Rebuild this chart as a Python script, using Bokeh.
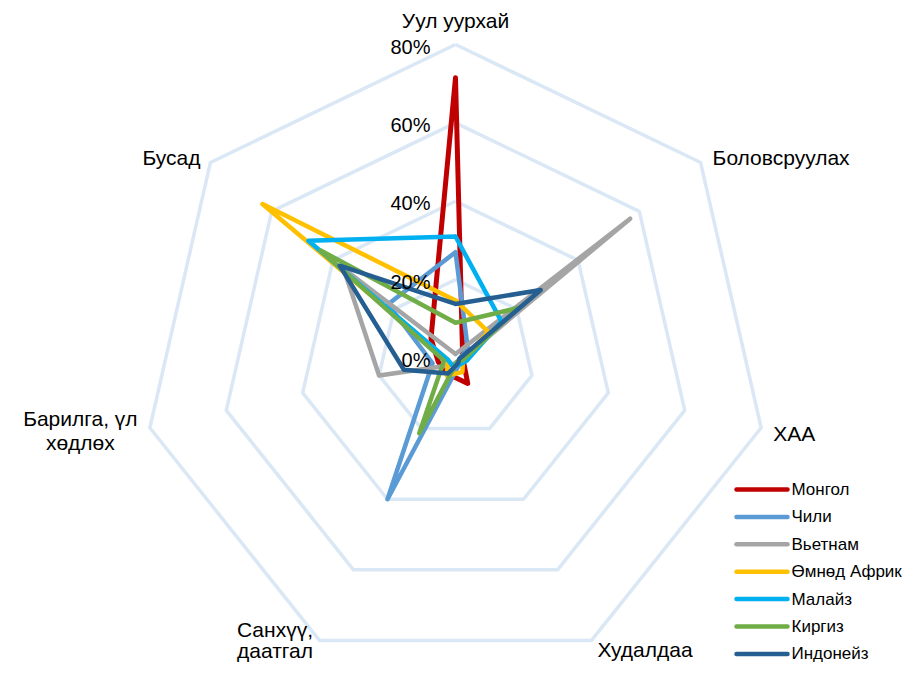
import math
from bokeh.plotting import figure
from bokeh.models import Range1d
from bokeh.core.properties import value
from bokeh.embed import file_html
from bokeh.resources import INLINE

# ---------------- data (percent) ----------------
categories = ["Уул уурхай", "Боловсруулах", "ХАА", "Худалдаа",
              "Санхүү, даатгал", "Барилга, үл хөдлөх", "Бусад"]
series_names = ["Монгол", "Чили", "Вьетнам", "Өмнөд Африк", "Малайз", "Киргиз", "Индонейз"]
mongol    = [71.5, 2.3, 2.0, 7.2, 4.5, 4.5, 8.0]
chile     = [27.0, 4.0, 1.0, 2.0, 40.0, 6.0, 22.0]
vietnam   = [1.0, 57.0, 1.5, 1.0, 2.0, 20.0, 36.5]
safrica   = [14.7, 10.7, 2.0, 4.0, 5.0, 2.0, 63.0]
malaysia  = [31.0, 15.0, 3.0, 2.0, 2.0, 2.0, 48.0]
kyrgyz    = [9.0, 20.5, 2.0, 1.0, 21.3, 3.0, 44.0]
indonesia = [13.8, 27.8, 1.0, 1.5, 4.4, 13.5, 37.8]
tick_values = [0, 20, 40, 60, 80]
tick_labels = ["0%", "20%", "40%", "60%", "80%"]

series_values = [mongol, chile, vietnam, safrica, malaysia, kyrgyz, indonesia]
colors = ["#C00000", "#5B9BD5", "#A5A5A5", "#FFC000", "#00B0F0", "#70AD47", "#255E91"]
widths = [5, 4.5, 4.5, 4.5, 4.5, 4.5, 4.5]

# ---------------- layout ----------------
W, H = 907, 665
PX = 313.5 / 80.0          # pixels per percent
CX, CY = 455.0, 357.5      # centre in figure pixels (from top-left)
RMAX = 80.0
N = len(categories)
angles = [math.pi / 2 - 2 * math.pi * k / N for k in range(N)]
FONT = value("Liberation Sans")

def polar(r, k):
    return r * math.cos(angles[k]), r * math.sin(angles[k])

def d(px):                 # pixel length -> data units
    return px / PX

def fx(px_x):
    return (px_x - CX) / PX

def fy(px_y):
    return (CY - px_y) / PX

p = figure(width=W, height=H, output_backend="svg", toolbar_location=None,
           x_range=Range1d(-CX / PX, (W - CX) / PX),
           y_range=Range1d(-(H - CY) / PX, CY / PX),
           x_axis_location=None, y_axis_location=None, min_border=0)
p.grid.visible = False
p.outline_line_color = None
p.background_fill_color = "white"

# grid rings
for tv in tick_values[1:]:
    xs = [polar(tv, k)[0] for k in range(N)] + [polar(tv, 0)[0]]
    ys = [polar(tv, k)[1] for k in range(N)] + [polar(tv, 0)[1]]
    p.line(xs, ys, line_color="#DAE7F5", line_width=3.5, line_join="round")

# series
for name, vals, c, w in zip(series_names, series_values, colors, widths):
    xs = [polar(v, k)[0] for k, v in enumerate(vals)]
    ys = [polar(v, k)[1] for k, v in enumerate(vals)]
    xs.append(xs[0]); ys.append(ys[0])
    p.line(xs, ys, line_color=c, line_width=w, line_join="round", line_cap="round")

# tick labels
p.text(x=[d(-25)] * len(tick_values), y=[tv - d(2) for tv in tick_values], text=tick_labels,
       text_font=FONT, text_font_size="20px", text_color="#000000",
       text_align="right", text_baseline="middle")

# category labels: (category index, text line, dx px, dy px, align)
label_specs = [
    (0, "Уул уурхай", 0, -24, "center"),
    (1, "Боловсруулах", 12, -5, "left"),
    (2, "ХАА", 12, 6, "left"),
    (3, "Худалдаа", 6, 9, "left"),
    (4, "Санхүү,", -44.5, -11, "center"),
    (4, "даатгал", -44.5, 10, "center"),
    (5, "Барилга, үл", -69.5, -9.5, "center"),
    (5, "хөдлөх", -69.5, 14.5, "center"),
    (6, "Бусад", -10, -5, "right"),
]
for k, txt, dx, dy, al in label_specs:
    vx, vy = polar(RMAX, k)
    p.text(x=[vx + d(dx)], y=[vy - d(dy)], text=[txt],
           text_font=FONT, text_font_size="21px", text_color="#000000",
           text_align=al, text_baseline="middle")

# legend (manual)
LX0, LX1, LTX = 736, 787, 791
LY0, LSTEP = 489, 27.4
for i, (name, c) in enumerate(zip(series_names, colors)):
    yy = fy(LY0 + i * LSTEP)
    p.line([fx(LX0), fx(LX1)], [yy, yy], line_color=c, line_width=4.5, line_cap="round")
    p.text(x=[fx(LTX)], y=[yy], text=[name], text_font=FONT,
           text_font_size="17px", text_color="#000000", text_align="left",
           text_baseline="middle")

open("out.html", "w").write(file_html(p, INLINE))
